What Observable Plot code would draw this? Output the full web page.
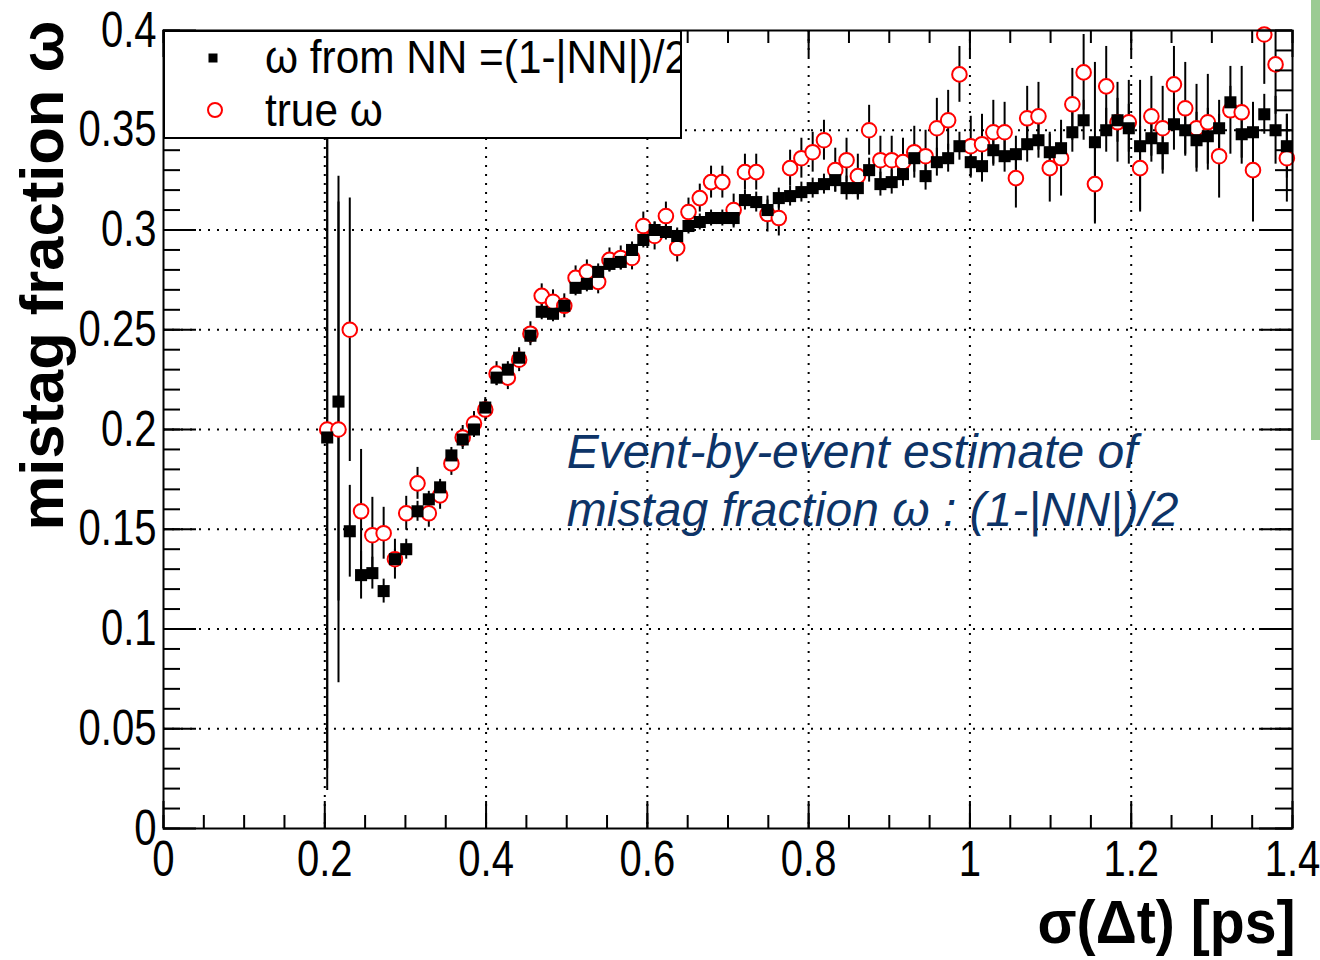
<!DOCTYPE html>
<html>
<head>
<meta charset="utf-8">
<script src="https://cdn.jsdelivr.net/npm/d3@7"></script>
<script src="https://cdn.jsdelivr.net/npm/@observablehq/plot@0.6"></script>
<style>
  html, body { margin: 0; padding: 0; background: #fff; }
  #wrap { position: relative; width: 1320px; height: 960px; overflow: hidden; background: #fff; }
  #chart svg { display: block; }
  #legend { position: absolute; left: 163px; top: 30px; width: 519px; height: 109px; box-sizing: border-box;
            border: 2px solid #000; background: #fff; overflow: hidden; font-family: "Liberation Sans", Arial, sans-serif; }
  #legend .txt { position: absolute; left: 100px; font-size: 46px; line-height: 46px; white-space: nowrap;
                 transform: scaleX(0.92); transform-origin: left center; color: #000; }
  #legend svg { position: absolute; left: 0; top: 0; }
  #greenbar { position: absolute; left: 1311px; top: 0; width: 9px; height: 440px; background: #9bcb93; }
</style>
</head>
<body>
<div id="wrap">
  <div id="chart"></div>
  <div id="legend"></div>
  <div id="greenbar"></div>
</div>
<script>
// ---- data: bin centres of sigma(Delta t) [ps] ----
const binCenters = [0.203,0.217,0.231,0.245,0.259,0.273,0.287,0.301,0.315,0.329,0.343,0.357,0.371,0.385,0.399,
  0.413,0.427,0.441,0.455,0.469,0.483,0.497,0.511,0.525,0.539,0.553,0.567,0.581,0.595,0.609,0.623,0.637,0.651,
  0.665,0.679,0.693,0.707,0.721,0.735,0.749,0.763,0.777,0.791,0.805,0.819,0.833,0.847,0.861,0.875,0.889,0.903,
  0.917,0.931,0.945,0.959,0.973,0.987,1.001,1.015,1.029,1.043,1.057,1.071,1.085,1.099,1.113,1.127,1.141,1.155,
  1.169,1.183,1.197,1.211,1.225,1.239,1.253,1.267,1.281,1.295,1.309,1.323,1.337,1.351,1.365,1.379,1.393];

// omega from NN = (1-|NN|)/2  (black squares)
const nnOmega = [0.196,0.214,0.149,0.127,0.128,0.119,0.135,0.140,0.159,0.165,0.171,0.187,0.195,0.200,0.211,
  0.226,0.230,0.236,0.247,0.259,0.258,0.262,0.271,0.273,0.279,0.283,0.284,0.290,0.295,0.300,0.299,0.297,0.302,
  0.304,0.306,0.306,0.306,0.315,0.314,0.310,0.316,0.317,0.319,0.321,0.323,0.325,0.321,0.321,0.330,0.323,0.324,
  0.328,0.336,0.327,0.334,0.336,0.342,0.334,0.332,0.340,0.337,0.338,0.343,0.345,0.339,0.341,0.349,0.355,0.344,
  0.350,0.355,0.351,0.342,0.346,0.341,0.353,0.350,0.345,0.347,0.351,0.364,0.348,0.349,0.358,0.350,0.342];
const nnErr = [0.177,0.100,0.023,0.012,0.008,0.006,0.005,0.005,0.005,0.004,0.004,0.004,0.004,0.004,0.004,
  0.004,0.004,0.004,0.004,0.004,0.004,0.004,0.004,0.004,0.004,0.004,0.004,0.004,0.004,0.004,0.004,0.004,0.004,
  0.004,0.004,0.004,0.005,0.005,0.005,0.005,0.005,0.005,0.005,0.005,0.005,0.006,0.006,0.006,0.006,0.006,0.006,
  0.006,0.007,0.007,0.007,0.007,0.007,0.008,0.008,0.008,0.008,0.009,0.009,0.009,0.010,0.010,0.010,0.010,0.040,
  0.011,0.011,0.012,0.033,0.012,0.013,0.013,0.013,0.014,0.014,0.014,0.008,0.015,0.015,0.010,0.017,0.016];

// true omega (red open circles)
const trueOmega = [0.200,0.200,0.250,0.159,0.147,0.148,0.135,0.158,0.173,0.158,0.167,0.183,0.196,0.203,0.210,
  0.228,0.226,0.235,0.248,0.267,0.264,0.262,0.276,0.279,0.274,0.285,0.286,0.286,0.302,0.297,0.307,0.291,0.309,
  0.316,0.324,0.324,0.310,0.329,0.329,0.308,0.306,0.331,0.336,0.339,0.345,0.330,0.335,0.327,0.350,0.335,0.335,
  0.334,0.339,0.337,0.351,0.355,0.378,0.342,0.343,0.349,0.349,0.326,0.356,0.357,0.331,0.336,0.363,0.379,0.323,
  0.372,0.354,0.354,0.331,0.357,0.351,0.373,0.361,0.351,0.354,0.337,0.360,0.359,0.330,0.398,0.383,0.336];
const trueErr = [0.170,0.127,0.066,0.031,0.019,0.013,0.010,0.0085,0.008,0.007,0.007,0.006,0.006,0.006,0.006,
  0.006,0.006,0.006,0.006,0.006,0.006,0.006,0.006,0.006,0.006,0.006,0.006,0.006,0.007,0.007,0.007,0.007,0.007,
  0.007,0.008,0.008,0.008,0.009,0.009,0.009,0.009,0.009,0.010,0.010,0.010,0.011,0.011,0.011,0.0125,0.012,0.012,
  0.012,0.013,0.013,0.015,0.015,0.014,0.015,0.015,0.016,0.015,0.015,0.016,0.017,0.017,0.019,0.018,0.019,0.020,
  0.020,0.020,0.021,0.021,0.020,0.021,0.019,0.023,0.022,0.024,0.021,0.022,0.023,0.026,0.025,0.025,0.022];

// axes
const xTickValues = [0, 0.2, 0.4, 0.6, 0.8, 1.0, 1.2, 1.4];
const xTickLabels = ["0", "0.2", "0.4", "0.6", "0.8", "1", "1.2", "1.4"];
const yTickValues = [0, 0.05, 0.1, 0.15, 0.2, 0.25, 0.3, 0.35, 0.4];
const yTickLabels = ["0", "0.05", "0.1", "0.15", "0.2", "0.25", "0.3", "0.35", "0.4"];
const xGridValues = [0.2, 0.4, 0.6, 0.8, 1.0, 1.2];
const yGridValues = [0.05, 0.1, 0.15, 0.2, 0.25, 0.3, 0.35];
const xMinorValues = d3.range(0, 1.4001, 0.05);
const yMinorValues = d3.range(0, 0.4001, 0.01);

const xTitle = "σ(Δt) [ps]";
const yTitle = "mistag fraction ω";
const seriesNames = ["ω from NN =(1-|NN|)/2", "true ω"];
const annotationText = "Event-by-event estimate of\nmistag fraction ω : (1-|NN|)/2";
const annotationPos = {x: 0.5, y: 0.1755};

const nnData = binCenters.map((x, i) => ({x, y: nnOmega[i], e: nnErr[i]}));
const trueData = binCenters.map((x, i) => ({x, y: trueOmega[i], e: trueErr[i]}));

const W = 1320, H = 960, mL = 163, mR = 28, mT = 30, mB = 132;
const pw = W - mL - mR, ph = H - mT - mB;
const majX = 27, minX = 13, majY = 33, minY = 17;

const chart = Plot.plot({
  width: W, height: H,
  marginLeft: mL, marginRight: mR, marginTop: mT, marginBottom: mB,
  x: {domain: [0, 1.4], axis: null},
  y: {domain: [0, 0.4], axis: null},
  style: {fontFamily: "Liberation Sans, Arial, sans-serif", background: "white", overflow: "visible"},
  marks: [
    // dotted grid
    Plot.ruleX(xGridValues, {stroke: "black", strokeWidth: 2, strokeDasharray: "2,7"}),
    Plot.ruleY(yGridValues, {stroke: "black", strokeWidth: 2, strokeDasharray: "2,7"}),
    // error bars
    Plot.ruleX(trueData, {x: "x", y1: d => d.y - d.e, y2: d => d.y + d.e, stroke: "black", strokeWidth: 2, clip: true}),
    Plot.ruleX(nnData, {x: "x", y1: d => d.y - d.e, y2: d => d.y + d.e, stroke: "black", strokeWidth: 2, clip: true}),
    // markers
    Plot.dot(trueData, {x: "x", y: "y", r: 7.3, stroke: "#ff0000", strokeWidth: 2, fill: "white"}),
    Plot.dot(nnData, {x: "x", y: "y", r: 6.8, symbol: "square", fill: "black", stroke: "none"}),
    // frame
    Plot.frame({stroke: "black", strokeWidth: 2}),
    // ticks bottom/top
    Plot.ruleX(xMinorValues, {insetTop: ph - minX, stroke: "black", strokeWidth: 2}),
    Plot.ruleX(xTickValues, {insetTop: ph - majX, stroke: "black", strokeWidth: 2}),
    Plot.ruleX(xMinorValues, {insetBottom: ph - minX, stroke: "black", strokeWidth: 2}),
    Plot.ruleX(xTickValues, {insetBottom: ph - majX, stroke: "black", strokeWidth: 2}),
    // ticks left/right
    Plot.ruleY(yMinorValues, {insetRight: pw - minY, stroke: "black", strokeWidth: 2}),
    Plot.ruleY(yTickValues, {insetRight: pw - majY, stroke: "black", strokeWidth: 2}),
    Plot.ruleY(yMinorValues, {insetLeft: pw - minY, stroke: "black", strokeWidth: 2}),
    Plot.ruleY(yTickValues, {insetLeft: pw - majY, stroke: "black", strokeWidth: 2}),
    // tick labels
    Plot.text(yTickValues, {y: d => d, text: (d, i) => yTickLabels[i], frameAnchor: "left", textAnchor: "end",
      lineAnchor: "middle", dx: -7, fontSize: 50, fill: "black"}),
    Plot.text(xTickValues, {x: d => d, text: (d, i) => xTickLabels[i], frameAnchor: "bottom", textAnchor: "middle",
      lineAnchor: "middle", dy: 31, fontSize: 50, fill: "black"}),
    // axis titles
    Plot.text([xTitle], {text: d => d, frameAnchor: "bottom-right", textAnchor: "end", lineAnchor: "bottom",
      dx: 3, dy: 114, fontSize: 61, fontWeight: "bold", fill: "black"}),
    Plot.text([yTitle], {text: d => d, frameAnchor: "top-left", textAnchor: "end", lineAnchor: "bottom",
      rotate: -90, dx: -101, dy: -10, fontSize: 61, fontWeight: "bold", fill: "black"}),
    // annotation
    Plot.text([annotationText], {x: annotationPos.x, y: annotationPos.y, text: d => d, textAnchor: "start",
      lineAnchor: "middle", lineHeight: 1.2, fontSize: 48, fontStyle: "italic", fill: "#0d3468"})
  ]
});

document.getElementById("chart").appendChild(chart);

// make tick labels narrower (condensed look of the original), keeping their anchors
function condense(selector, factor, fixed) {
  chart.querySelectorAll(selector).forEach(t => {
    const w = t.getComputedTextLength();
    if (w > 0) {
      t.setAttribute("textLength", (fixed != null ? fixed : w * factor).toFixed(1));
      t.setAttribute("lengthAdjust", "spacingAndGlyphs");
    }
  });
}
condense('g[font-size="50"] text', 0.8);
chart.querySelectorAll('g[font-size="61"] text').forEach(t => {
  const s = t.textContent;
  const w = t.getComputedTextLength();
  if (w > 0) {
    t.setAttribute("textLength", (s === yTitle ? 510 : 258).toFixed(1));
    t.setAttribute("lengthAdjust", "spacingAndGlyphs");
  }
});

// legend (drawn over the top-left of the frame as in the original)
const legend = document.getElementById("legend");
legend.innerHTML = `
  <svg width="515" height="105">
    <rect x="43.5" y="21.5" width="9" height="9" fill="black"></rect>
    <circle cx="50" cy="78" r="7" fill="white" stroke="#ff0000" stroke-width="2"></circle>
  </svg>
  <div class="txt" style="top:2px">${seriesNames[0]}</div>
  <div class="txt" style="top:55px">${seriesNames[1]}</div>`;
</script>
</body>
</html>
